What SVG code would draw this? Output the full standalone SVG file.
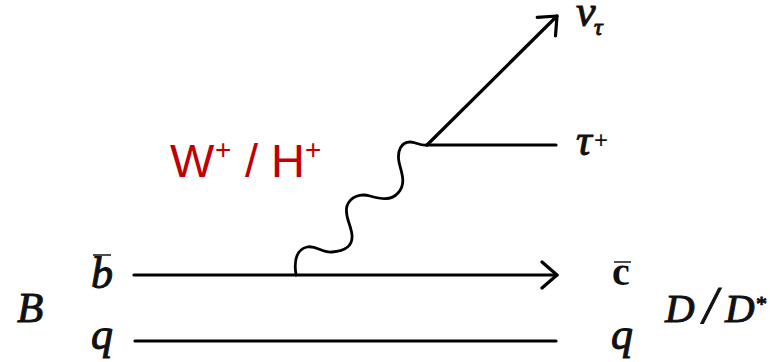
<svg xmlns="http://www.w3.org/2000/svg" width="770" height="362" viewBox="0 0 770 362">
<defs>
<style>
.l{fill:none;stroke:#000;stroke-width:3.2;stroke-linecap:round;stroke-linejoin:round}
.w{fill:none;stroke:#000;stroke-width:2.8;stroke-linecap:round}
.b{stroke:#222;stroke-width:1.6}
.m{font-family:"Liberation Serif",serif;font-style:italic;fill:#111;stroke:#111;stroke-width:1}
.c{font-family:"Liberation Serif",serif;font-weight:bold;fill:#111}
.r{font-family:"Liberation Sans",Arial,sans-serif;fill:#c00000}
</style>
<marker id="open" viewBox="0 0 20 30" refX="17" refY="15" markerWidth="20" markerHeight="30" markerUnits="userSpaceOnUse" orient="auto"><path d="M2 2L17 15L2 28" fill="none" stroke="#000" stroke-width="3.2" stroke-linecap="round" stroke-linejoin="round"/></marker>
</defs>
<rect width="770" height="362" fill="#fff"/>
<g id="connectors">
<path class="l" d="M427 145L557 16" marker-end="url(#open)"/>
<path class="l" d="M427 145H556"/>
<path class="l" d="M134 275H557" marker-end="url(#open)"/>
<path class="l" d="M135 341H556"/>
<path class="w" d="M296 275C294 262 295 250 307 247C316 245 322 253 332 252C344 251 353 247 352 235C351 224 344 216 347 206C350 197 360 193 370 196C381 199 391 201 398 193C407 183 401 172 399 162C397 151 401 142 410 142C416 142 420 146 427 145"/>
</g>
<g id="label-wh"><text class="r" x="170" y="177" font-size="47">W</text><text class="r" x="215" y="159" font-size="28">+</text><text class="r" x="245" y="177" font-size="47">/</text><text class="r" x="271" y="177" font-size="47">H</text><text class="r" x="305" y="159" font-size="28">+</text></g>
<g id="label-nu"><text class="m" x="576" y="26" font-size="44">ν</text><text class="m" x="594" y="35" font-size="24">τ</text></g>
<g id="label-tau"><text class="m" x="576" y="155" font-size="44">τ</text><text class="r" x="594" y="148" font-size="24" style="fill:#111">+</text></g>
<g id="label-b"><text class="m" x="91" y="288" font-size="44">b</text><line class="b" x1="93" y1="255" x2="111" y2="255"/></g>
<g id="label-q1"><text class="m" x="91" y="349" font-size="44">q</text></g>
<g id="label-B"><text class="m" x="17" y="322" font-size="43">B</text></g>
<g id="label-c"><text class="c" x="612" y="285" font-size="40">c</text><line class="b" x1="614" y1="262" x2="631" y2="262"/></g>
<g id="label-q2"><text class="m" x="611" y="349" font-size="44">q</text></g>
<g id="label-D"><text class="m" x="665" y="322" font-size="41">D</text><text class="m" x="703" y="323" font-size="52">/</text><text class="m" x="725" y="322" font-size="41">D</text><text class="m" x="755" y="311" font-size="22">*</text></g>
</svg>
